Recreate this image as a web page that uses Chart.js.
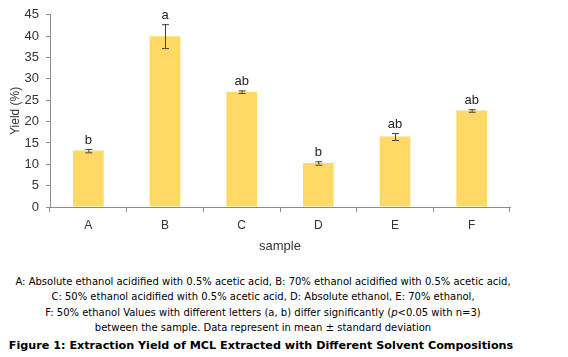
<!DOCTYPE html>
<html><head><meta charset="utf-8">
<script src="https://cdn.jsdelivr.net/npm/chart.js@4/dist/chart.umd.min.js"></script>
<style>
html,body{margin:0;padding:0;background:#fff;width:568px;height:357px;overflow:hidden}
#wrap{position:absolute;left:0;top:0;width:568px;height:258px}
#cap{position:absolute;left:0;top:274px;width:526px;text-align:center;font-family:"DejaVu Sans",sans-serif;font-size:10px;line-height:15.3px;color:#000}
#title{position:absolute;left:0;top:339px;width:522px;text-align:center;font-family:"DejaVu Sans",sans-serif;font-weight:bold;font-size:11.2px;color:#000}
</style></head><body>
<div id="wrap"><canvas id="c" width="568" height="258"></canvas></div>
<div id="cap">A: Absolute ethanol acidified with 0.5% acetic acid, B: 70% ethanol acidified with 0.5% acetic acid,<br>C: 50% ethanol acidified with 0.5% acetic acid, D: Absolute ethanol, E: 70% ethanol,<br>F: 50% ethanol Values with different letters (a, b) differ significantly (<i>p</i>&lt;0.05 with n=3)<br>between the sample. Data represent in mean ± standard deviation</div>
<div id="title">Figure 1: Extraction Yield of MCL Extracted with Different Solvent Compositions</div>
<script>
const categories = ["A","B","C","D","E","F"];
const yieldValues = [13.2, 40.0, 27.0, 10.3, 16.5, 22.6];
const errors = [0.4, 2.8, 0.3, 0.4, 0.8, 0.3];
const letters = ["b","a","ab","b","ab","ab"];
const yTicks = [0,5,10,15,20,25,30,35,40,45];

const errPlugin = {
  id:'err',
  afterDatasetsDraw(chart){
    const ctx = chart.ctx, meta = chart.getDatasetMeta(0), ys = chart.scales.y;
    ctx.save();
    meta.data.forEach((bar,i)=>{
      const x = bar.x;
      const top = ys.getPixelForValue(yieldValues[i]+errors[i]);
      const bot = ys.getPixelForValue(yieldValues[i]-errors[i]);
      ctx.strokeStyle='#404040'; ctx.lineWidth=1;
      ctx.beginPath();
      ctx.moveTo(x+0.5,top); ctx.lineTo(x+0.5,bot);
      ctx.moveTo(x-3,top+0.5); ctx.lineTo(x+4,top+0.5);
      ctx.moveTo(x-3,bot+0.5); ctx.lineTo(x+4,bot+0.5);
      ctx.stroke();
      ctx.fillStyle='#222'; ctx.font='13px "Liberation Sans", Arial, sans-serif';
      ctx.textAlign='center'; ctx.textBaseline='alphabetic';
      ctx.fillText(letters[i], x, top-5);
    });
    ctx.restore();
  }
};

new Chart(document.getElementById('c'),{
  type:'bar',
  data:{labels:categories,datasets:[{data:yieldValues,backgroundColor:'#FFD966',borderWidth:0,categoryPercentage:1,barPercentage:0.4}]},
  options:{
    responsive:false,animation:false,
    layout:{padding:{left:4,right:58,top:13,bottom:0}},
    plugins:{legend:{display:false},tooltip:{enabled:false}},
    scales:{
      x:{
        grid:{display:true,drawOnChartArea:false,drawTicks:true,tickLength:5,color:'#8c8c8c',offset:true},
        border:{color:'#8c8c8c'},
        ticks:{color:'#333',font:{family:'"Liberation Sans", Arial, sans-serif',size:12},padding:6},
        title:{display:true,text:'sample',color:'#333',font:{family:'"Liberation Sans", Arial, sans-serif',size:13},padding:{top:2}},
        afterFit(s){s.height=51;}
      },
      y:{
        min:0,max:45,
        afterBuildTicks(s){s.ticks=yTicks.map(v=>({value:v}));},
        grid:{display:true,drawOnChartArea:false,drawTicks:true,tickLength:4,color:'#8c8c8c'},
        border:{color:'#8c8c8c'},
        ticks:{color:'#333',font:{family:'"Liberation Sans", Arial, sans-serif',size:13},padding:7},
        title:{display:true,text:'Yield (%)',color:'#333',font:{family:'"Liberation Sans", Arial, sans-serif',size:12},padding:{bottom:2}},
        afterFit(s){s.width=46;}
      }
    }
  },
  plugins:[errPlugin]
});
</script>
</body></html>
